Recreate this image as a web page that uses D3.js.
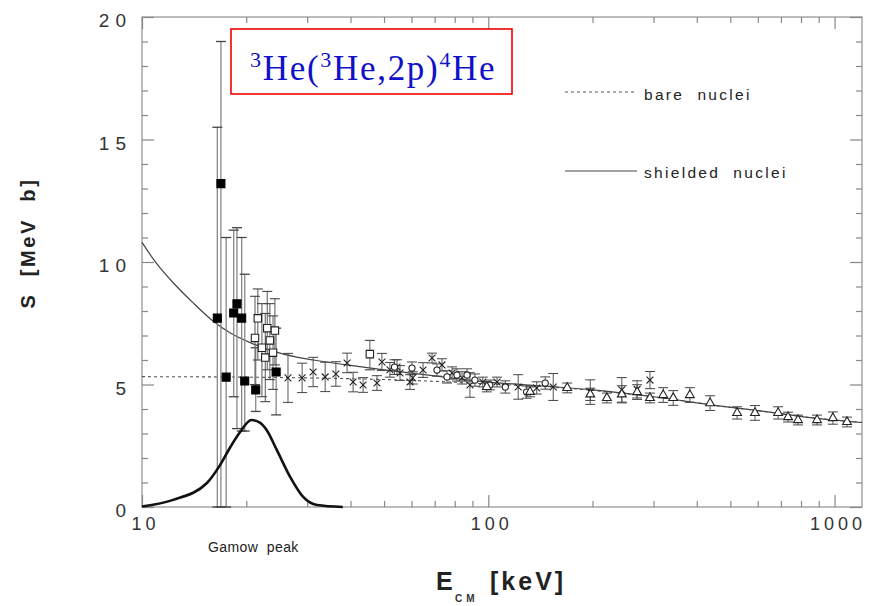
<!DOCTYPE html>
<html>
<head>
<meta charset="utf-8">
<script src="https://cdn.jsdelivr.net/npm/d3@7"></script>
<style>
body { margin: 0; background: #fff; }
</style>
</head>
<body>
<script>
// energies in keV, S-factor in MeV b

// tall error bars, filled squares: [E, S, low, high]
var lunaPts = [
  [16.5, 7.71, 0, 15.5],
  [16.9, 13.2, 0, 19.0],
  [17.5, 5.3, 0, 11.0],
  [18.4, 7.92, 4.5, 11.3],
  [18.8, 8.29, 3.2, 11.4],
  [19.4, 7.71, 3.1, 11.0],
  [19.8, 5.14, 3.1, 9.5],
  [21.3, 4.78, 3.9, 6.5],
  [24.4, 5.51, 3.76, 7.3]
];

// open squares: [E, S, low, high]
var squarePts = [
  [21.2, 6.9, 5.0, 8.6],
  [21.6, 7.7, 6.0, 8.9],
  [22.2, 6.5, 4.5, 8.3],
  [22.7, 6.1, 4.3, 7.9],
  [23.0, 7.3, 5.6, 8.8],
  [23.4, 6.8, 5.2, 8.3],
  [23.9, 6.3, 4.8, 7.8],
  [24.2, 7.2, 5.8, 8.5],
  [45.5, 6.24, 5.6, 6.8]
];

// crosses: [E, S, err]
var crossPts = [
  [26.4, 5.27, 1.0], [29.0, 5.27, 0.6], [31.2, 5.51, 0.6], [33.8, 5.31, 0.6],
  [36.3, 5.43, 0.5], [39.1, 5.88, 0.4], [40.7, 5.10, 0.4], [43.5, 4.98, 0.3],
  [47.7, 5.06, 0.3], [49.3, 5.92, 0.35], [52.0, 5.6, 0.3], [54.5, 5.71, 0.3],
  [55.6, 5.47, 0.3], [59.4, 5.10, 0.3], [60.5, 5.27, 0.25], [64.8, 5.59, 0.3],
  [68.8, 6.08, 0.2], [73.5, 5.80, 0.25], [78.6, 5.47, 0.25], [84.0, 5.27, 0.25],
  [88.5, 4.98, 0.5], [96.4, 5.10, 0.2], [106, 5.10, 0.2], [122, 4.90, 0.5],
  [138, 4.86, 0.25], [154, 4.90, 0.55], [197, 4.69, 0.5], [243, 4.78, 0.5],
  [269, 4.80, 0.35], [293, 5.18, 0.35]
];

// open circles: [E, S, err]
var circlePts = [
  [53.6, 5.71, 0.3], [60.2, 5.67, 0.25], [71.1, 5.59, 0.25], [76.0, 5.31, 0.25],
  [81.2, 5.39, 0.25], [86.8, 5.39, 0.25], [91.5, 5.18, 0.25], [101, 4.98, 0.2],
  [112, 4.90, 0.25], [129, 4.69, 0.25], [146, 5.06, 0.25]
];

// triangles: [E, S, err]
var trianglePts = [
  [99, 4.9, 0.2], [132, 4.7, 0.2], [169, 4.86, 0.2], [197, 4.6, 0.25],
  [220, 4.45, 0.2], [243, 4.6, 0.35], [269, 4.69, 0.3], [293, 4.45, 0.2],
  [320, 4.57, 0.3], [342, 4.45, 0.3], [382, 4.57, 0.3], [437, 4.24, 0.3],
  [523, 3.84, 0.25], [589, 3.84, 0.3], [687, 3.84, 0.25], [734, 3.67, 0.2],
  [784, 3.55, 0.2], [890, 3.55, 0.2], [989, 3.63, 0.25], [1086, 3.47, 0.2]
];

// fit curves
var shieldE = [10, 11, 12.5, 14, 16, 18, 21, 24, 28, 33, 40, 50, 70, 100, 150, 200, 300, 450, 650, 850, 1200];
var shieldS = [10.8, 9.95, 9.05, 8.35, 7.6, 7.1, 6.65, 6.35, 6.12, 5.95, 5.78, 5.6, 5.35, 5.1, 4.92, 4.78, 4.5, 4.15, 3.87, 3.65, 3.45];
var bareE = [10, 20, 30, 45, 70, 100, 150, 200, 300, 450, 650, 850, 1200];
var bareS = [5.32, 5.3, 5.27, 5.22, 5.13, 5.02, 4.9, 4.76, 4.5, 4.15, 3.87, 3.65, 3.45];

// Gamow peak (arbitrary units, drawn on S scale)
var gamowE = [10, 12.3, 15.4, 16.8, 18.0, 19.2, 20.7, 21.9, 22.9, 24.5, 26.8, 29.2, 32.0, 38.0];
var gamowS = [0.02, 0.29, 0.98, 1.71, 2.45, 3.06, 3.55, 3.44, 3.14, 2.33, 1.22, 0.41, 0.08, 0.0];

var xMajor = [10, 100, 1000];
var xMinor = [20, 30, 40, 50, 60, 70, 80, 90, 200, 300, 400, 500, 600, 700, 800, 900];
var yMajor = [0, 5, 10, 15, 20];
var yMinor = d3.range(0, 21).filter(function(v) { return v % 5 != 0; });

var W = 875, H = 606;
var pLeft = 142, pRight = 862, pTop = 17, pBottom = 507;
var font = "Liberation Sans, Arial, sans-serif";

var x = d3.scaleLog().domain([10, 1200]).range([pLeft, pRight]);
var y = d3.scaleLinear().domain([0, 20]).range([pBottom, pTop]);

var svg = d3.select("body").append("svg")
    .attr("width", W)
    .attr("height", H)
    .style("background", "#fff");

// frame
svg.append("rect")
    .attr("x", pLeft).attr("y", pTop)
    .attr("width", pRight - pLeft).attr("height", pBottom - pTop)
    .attr("fill", "none").attr("stroke", "#999").attr("stroke-width", 1.3);

function tickAxis(axis, tr) {
  var g = svg.append("g").attr("transform", tr).call(axis);
  g.select(".domain").remove();
  g.selectAll(".tick line").attr("stroke", "#888").attr("stroke-width", 1.2);
  return g;
}

// inward ticks on all four sides
tickAxis(d3.axisBottom(x).tickValues(xMinor).tickSize(-6).tickFormat(""), "translate(0," + pBottom + ")");
tickAxis(d3.axisTop(x).tickValues(xMinor).tickSize(-6).tickFormat(""), "translate(0," + pTop + ")");
tickAxis(d3.axisTop(x).tickValues(xMajor).tickSize(-12).tickFormat(""), "translate(0," + pTop + ")");
tickAxis(d3.axisLeft(y).tickValues(yMinor).tickSize(-6).tickFormat(""), "translate(" + pLeft + ",0)");
tickAxis(d3.axisRight(y).tickValues(yMinor).tickSize(-6).tickFormat(""), "translate(" + pRight + ",0)");
tickAxis(d3.axisRight(y).tickValues(yMajor).tickSize(-12).tickFormat(""), "translate(" + pRight + ",0)");

var xa = tickAxis(d3.axisBottom(x).tickValues(xMajor).tickSize(-12).tickPadding(10).tickFormat(d3.format("d")),
    "translate(0," + pBottom + ")");
xa.selectAll("text")
    .attr("font-family", font).attr("font-size", 18).attr("fill", "#333")
    .attr("letter-spacing", 4).attr("dx", 3);

var ya = tickAxis(d3.axisLeft(y).tickValues(yMajor).tickSize(-12).tickPadding(10).tickFormat(d3.format("d")),
    "translate(" + pLeft + ",0)");
ya.selectAll("text")
    .attr("font-family", font).attr("font-size", 19).attr("fill", "#333")
    .attr("letter-spacing", 6).attr("dy", "0.5em");

// curves
var line = d3.line()
    .x(function(d) { return x(d[0]); })
    .y(function(d) { return y(d[1]); })
    .curve(d3.curveMonotoneX);

svg.append("path")
    .datum(d3.zip(bareE, bareS))
    .attr("d", line)
    .attr("fill", "none").attr("stroke", "#555").attr("stroke-width", 1.1)
    .attr("stroke-dasharray", "3,3");

svg.append("path")
    .datum(d3.zip(shieldE, shieldS))
    .attr("d", line)
    .attr("fill", "none").attr("stroke", "#444").attr("stroke-width", 1.2);

// error bars
function errBars(data, lo, hi, color, w) {
  var g = svg.append("g").attr("stroke", color).attr("stroke-width", w);
  g.selectAll(".v").data(data).enter().append("line")
      .attr("x1", function(d) { return x(d[0]); })
      .attr("x2", function(d) { return x(d[0]); })
      .attr("y1", function(d) { return y(lo(d)); })
      .attr("y2", function(d) { return y(hi(d)); });
  [lo, hi].forEach(function(f) {
    g.selectAll(null).data(data).enter().append("line")
        .attr("x1", function(d) { return x(d[0]) - 5; })
        .attr("x2", function(d) { return x(d[0]) + 5; })
        .attr("y1", function(d) { return y(f(d)); })
        .attr("y2", function(d) { return y(f(d)); })
        .attr("stroke", "#444");
  });
}

var lo4 = function(d) { return d[2]; }, hi4 = function(d) { return d[3]; };
var lo3 = function(d) { return d[1] - d[2]; }, hi3 = function(d) { return d[1] + d[2]; };

errBars(lunaPts, lo4, hi4, "#888", 1.3);
errBars(squarePts, lo4, hi4, "#666", 1.1);
errBars(crossPts, lo3, hi3, "#555", 1);
errBars(circlePts, lo3, hi3, "#555", 1);
errBars(trianglePts, lo3, hi3, "#555", 1);

// markers
function markers(data, type, size, fill, stroke) {
  svg.append("g").selectAll("path").data(data).enter().append("path")
      .attr("d", d3.symbol().type(type).size(size))
      .attr("transform", function(d) { return "translate(" + x(d[0]) + "," + y(d[1]) + ")"; })
      .attr("fill", fill).attr("stroke", stroke).attr("stroke-width", 1.1);
}

markers(squarePts, d3.symbolSquare, 55, "#fff", "#222");
markers(crossPts, d3.symbolTimes, 32, "none", "#222");
markers(circlePts, d3.symbolCircle, 30, "#fff", "#222");
markers(trianglePts, d3.symbolTriangle, 34, "#fff", "#222");
markers(lunaPts, d3.symbolSquare, 64, "#000", "#000");

// Gamow peak
svg.append("path")
    .datum(d3.zip(gamowE, gamowS))
    .attr("d", line)
    .attr("fill", "none").attr("stroke", "#111").attr("stroke-width", 2.6);

svg.append("text")
    .attr("x", 208).attr("y", 552)
    .attr("font-family", font).attr("font-size", 14).attr("fill", "#222")
    .attr("letter-spacing", 0.4)
    .attr("xml:space", "preserve")
    .text("Gamow  peak");

// legend
svg.append("line").attr("x1", 565).attr("x2", 635).attr("y1", 92).attr("y2", 92)
    .attr("stroke", "#555").attr("stroke-width", 1.1).attr("stroke-dasharray", "3,3");
svg.append("line").attr("x1", 565).attr("x2", 637).attr("y1", 171).attr("y2", 171)
    .attr("stroke", "#444").attr("stroke-width", 1.2);
svg.append("text").attr("x", 644).attr("y", 100)
    .attr("font-family", font).attr("font-size", 15.5).attr("fill", "#222")
    .attr("letter-spacing", 2.3).attr("xml:space", "preserve")
    .text("bare  nuclei");
svg.append("text").attr("x", 644).attr("y", 178)
    .attr("font-family", font).attr("font-size", 15.5).attr("fill", "#222")
    .attr("letter-spacing", 2.3).attr("xml:space", "preserve")
    .text("shielded  nuclei");

// reaction label
svg.append("rect")
    .attr("x", 231).attr("y", 29).attr("width", 281).attr("height", 65)
    .attr("fill", "#fff").attr("stroke", "#e00").attr("stroke-width", 1.6);
var t = svg.append("text").attr("x", 250).attr("y", 80)
    .attr("font-family", "Liberation Serif, Times New Roman, serif")
    .attr("font-size", 35).attr("fill", "#1010c8").attr("letter-spacing", 1.7);
[["3", true], ["He(", false], ["3", true], ["He,2p)", false], ["4", true], ["He", false]].forEach(function(p) {
  t.append("tspan")
      .attr("font-size", p[1] ? 22 : 35)
      .attr("dy", p[1] ? -13 : 13)
      .text(p[0]);
});
t.select("tspan").attr("dy", -13);

// axis titles
svg.append("text")
    .attr("transform", "translate(35,243) rotate(-90)")
    .attr("text-anchor", "middle")
    .attr("font-family", font).attr("font-size", 20).attr("font-weight", "bold")
    .attr("fill", "#222").attr("letter-spacing", 2.6).attr("xml:space", "preserve")
    .text("S  [MeV  b]");

svg.append("text").attr("x", 436).attr("y", 590)
    .attr("font-family", font).attr("font-size", 25).attr("font-weight", "bold").attr("fill", "#222")
    .text("E");
svg.append("text").attr("x", 455).attr("y", 602)
    .attr("font-family", font).attr("font-size", 10).attr("font-weight", "bold").attr("fill", "#333")
    .attr("letter-spacing", 4)
    .text("CM");
svg.append("text").attr("x", 490).attr("y", 590)
    .attr("font-family", font).attr("font-size", 25).attr("font-weight", "bold").attr("fill", "#222")
    .attr("letter-spacing", 3)
    .text("[keV]");
</script>
</body>
</html>
